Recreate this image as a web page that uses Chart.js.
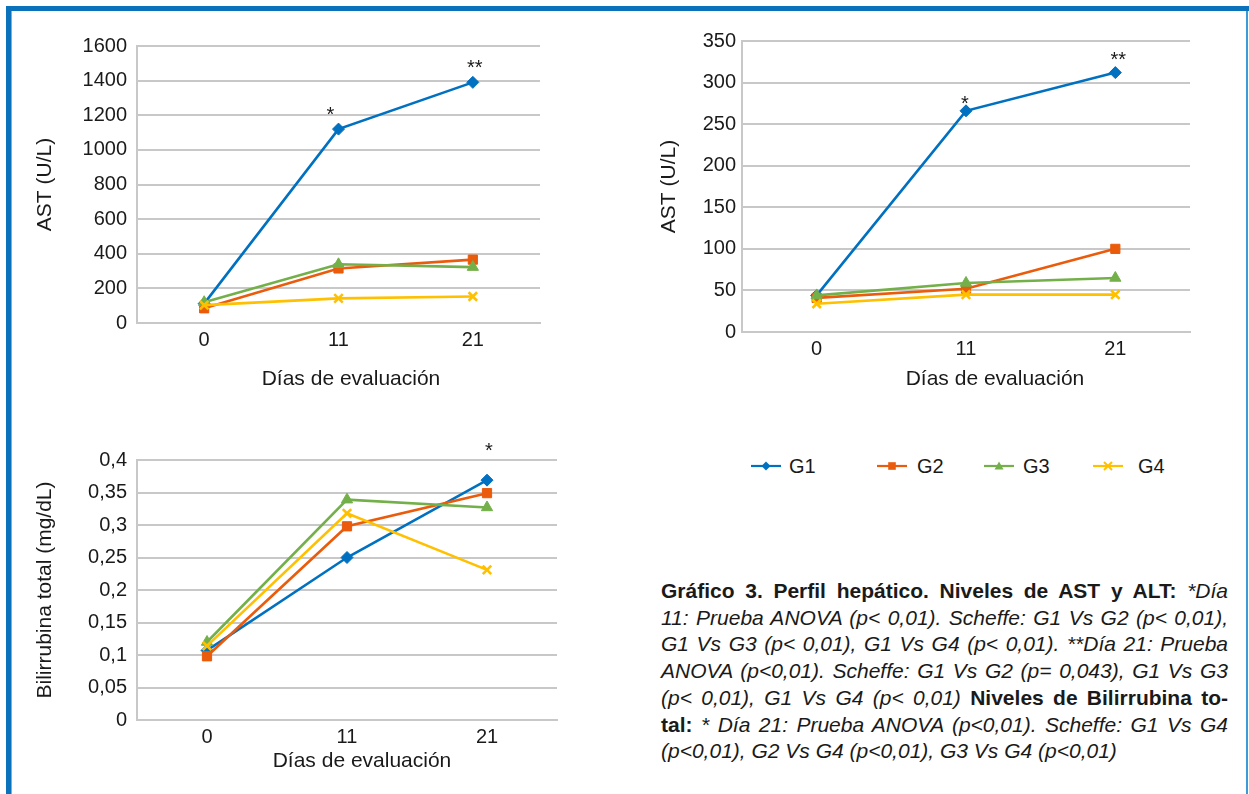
<!DOCTYPE html>
<html>
<head>
<meta charset="utf-8">
<script src="https://cdn.jsdelivr.net/npm/chart.js@4"></script>
<style>
html,body{margin:0;padding:0;background:#fff;}
#page{position:relative;width:1249px;height:794px;overflow:hidden;background:#fff;font-family:'Liberation Sans',Arial,sans-serif;color:#1a1a1a;}
.frame-top{position:absolute;left:6px;top:6px;width:1243px;height:5px;background:#0a71bb;}
.frame-left{position:absolute;left:6px;top:6px;width:5px;height:788px;background:#0a71bb;}
.frame-left2{position:absolute;left:11px;top:11px;width:1px;height:783px;background:#6fb3e3;}
.frame-right{position:absolute;left:1246px;top:11px;width:2px;height:783px;background:#3c9ad6;}
canvas{position:absolute;}
.xt{position:absolute;font-size:21px;white-space:nowrap;transform:translate(-50%,-50%);line-height:24px;}
.lg-ic{position:absolute;}
.lg-tx{position:absolute;font-size:20px;line-height:24px;transform:translateY(-50%);}
#caption{position:absolute;left:661px;top:578px;width:567px;font-size:21px;line-height:26.7px;color:#1a1a1a;}
#caption div{text-align:justify;text-align-last:justify;white-space:nowrap;}
#caption div.last{text-align-last:left;}
#caption i{font-style:italic;}
#caption b{font-weight:bold;}
</style>
</head>
<body>
<div id="page">
  <div class="frame-top"></div>
  <div class="frame-left"></div>
  <div class="frame-left2"></div>
  <div class="frame-right"></div>

  <canvas id="c1"></canvas>
  <canvas id="c2"></canvas>
  <canvas id="c3"></canvas>

  <div class="xt" style="left:351px;top:378px;">Días de evaluación</div>
  <div class="xt" style="left:995px;top:378px;">Días de evaluación</div>
  <div class="xt" style="left:362px;top:760px;">Días de evaluación</div>

  <div id="legend"></div>

  <div id="caption">
    <div><b>Gráfico 3. Perfil hepático. Niveles de AST y ALT:</b> <i>*Día</i></div>
    <div><i>11: Prueba ANOVA (p&lt; 0,01). Scheffe: G1 Vs G2 (p&lt; 0,01),</i></div>
    <div><i>G1 Vs G3 (p&lt; 0,01), G1 Vs G4 (p&lt; 0,01). **Día 21: Prueba</i></div>
    <div><i>ANOVA (p&lt;0,01). Scheffe: G1 Vs G2 (p= 0,043), G1 Vs G3</i></div>
    <div><i>(p&lt; 0,01), G1 Vs G4 (p&lt; 0,01)</i> <b>Niveles de Bilirrubina to-</b></div>
    <div><b>tal:</b> <i>* Día 21: Prueba ANOVA (p&lt;0,01). Scheffe: G1 Vs G4</i></div>
    <div class="last"><i>(p&lt;0,01), G2 Vs G4 (p&lt;0,01), G3 Vs G4 (p&lt;0,01)</i></div>
  </div>
</div>

<script>
// ---------- DATA ----------
const days = ['0', '11', '21'];
const groups = ['G1', 'G2', 'G3', 'G4'];

// Chart 1: AST (U/L), left
const ast1G1 = [112, 1120, 1390];
const ast1G2 = [85, 315, 366];
const ast1G3 = [120, 339, 323];
const ast1G4 = [103, 142, 153];
const ast1TickLabels = ['0', '200', '400', '600', '800', '1000', '1200', '1400', '1600'];
const ast1Marks = ['', '*', '**'];

// Chart 2: AST (U/L), right
const ast2G1 = [44, 266, 312];
const ast2G2 = [41, 52, 100];
const ast2G3 = [44, 59, 65];
const ast2G4 = [34, 45, 45];
const ast2TickLabels = ['0', '50', '100', '150', '200', '250', '300', '350'];
const ast2Marks = ['', '*', '**'];

// Chart 3: Bilirrubina total (mg/dL)
const bilG1 = [0.107, 0.25, 0.369];
const bilG2 = [0.098, 0.298, 0.349];
const bilG3 = [0.12, 0.339, 0.327];
const bilG4 = [0.114, 0.318, 0.231];
const bilTickLabels = ['0', '0,05', '0,1', '0,15', '0,2', '0,25', '0,3', '0,35', '0,4'];
const bilMarks = ['', '', '*'];

// ---------- STYLE ----------
const FONT = "'Liberation Sans', Arial, sans-serif";
Chart.defaults.font.family = FONT;
const colors = ['#0070c0', '#ea5b0c', '#74b04a', '#ffc000'];
const styles = ['rectRot', 'rect', 'triangle', 'crossRot'];
const radii = [6, 6.5, 6.5, 6];
const orders = [4, 3, 2, 1];
const GRID = '#c8c8c8';
const TXT = '#1a1a1a';

const starPlugin = {
  id: 'stars',
  afterDatasetsDraw(chart, args, opts) {
    const meta = chart.getDatasetMeta(0);
    const ctx = chart.ctx;
    ctx.save();
    ctx.font = '20px ' + FONT;
    ctx.fillStyle = TXT;
    ctx.textAlign = 'center';
    ctx.textBaseline = 'alphabetic';
    opts.marks.forEach((t, i) => {
      if (!t) return;
      const p = meta.data[i];
      const o = opts.offsets[i];
      ctx.fillText(t, p.x + o[0], p.y + o[1]);
    });
    ctx.restore();
  }
};

function makeDatasets(series) {
  return series.map((d, i) => ({
    label: groups[i],
    data: d,
    borderColor: colors[i],
    backgroundColor: colors[i],
    borderWidth: 2.6,
    pointStyle: styles[i],
    pointRadius: radii[i],
    pointBackgroundColor: colors[i],
    pointBorderColor: colors[i],
    pointBorderWidth: styles[i] === 'crossRot' ? 2.6 : 1,
    tension: 0,
    order: orders[i]
  }));
}

function makeChart(id, box, plot, series, yOpts, marks, offsets) {
  const cv = document.getElementById(id);
  cv.width = box.w; cv.height = box.h;
  cv.style.left = box.x + 'px'; cv.style.top = box.y + 'px';
  cv.style.width = box.w + 'px'; cv.style.height = box.h + 'px';
  return new Chart(cv, {
    type: 'line',
    data: { labels: days, datasets: makeDatasets(series) },
    options: {
      responsive: false,
      animation: false,
      devicePixelRatio: 1,
      layout: { padding: { left: 0, top: plot.top - box.y, right: box.x + box.w - plot.right, bottom: 0 } },
      plugins: {
        legend: { display: false },
        tooltip: { enabled: false },
        stars: { marks: marks, offsets: offsets }
      },
      scales: {
        x: {
          type: 'category',
          offset: true,
          grid: { display: false, drawTicks: false },
          border: { display: true, color: GRID, width: 2 },
          ticks: { color: TXT, font: { size: 20 }, padding: 5, maxRotation: 0 },
          afterFit(s) { s.height = box.y + box.h - plot.bottom; }
        },
        y: {
          min: yOpts.min, max: yOpts.max,
          ticks: {
            stepSize: yOpts.step,
            color: TXT, font: { size: 20 }, padding: yOpts.tickPad,
            callback: (v, i) => yOpts.labels[i]
          },
          grid: { color: GRID, lineWidth: 2, drawTicks: false },
          border: { display: true, color: GRID, width: 2 },
          title: { display: true, text: yOpts.title, color: TXT, font: { size: 21 }, padding: { top: yOpts.titlePad, bottom: 0 } },
          afterFit(s) { s.width = plot.left - box.x; }
        }
      }
    },
    plugins: [starPlugin]
  });
}

makeChart('c1',
  { x: 20, y: 20, w: 560, h: 390 },
  { left: 137, top: 46, right: 540, bottom: 323 },
  [ast1G1, ast1G2, ast1G3, ast1G4],
  { min: 0, max: 1600, step: 200, labels: ast1TickLabels, title: 'AST (U/L)', tickPad: 10, titlePad: 13 },
  ast1Marks, [[0, 0], [-8, -8], [2, -8]]);

makeChart('c2',
  { x: 640, y: 20, w: 580, h: 390 },
  { left: 742, top: 41, right: 1190, bottom: 332 },
  [ast2G1, ast2G2, ast2G3, ast2G4],
  { min: 0, max: 350, step: 50, labels: ast2TickLabels, title: 'AST (U/L)', tickPad: 6, titlePad: 17 },
  ast2Marks, [[0, 0], [-1, -1], [3, -7]]);

makeChart('c3',
  { x: 20, y: 430, w: 560, h: 340 },
  { left: 137, top: 460, right: 557, bottom: 720 },
  [bilG1, bilG2, bilG3, bilG4],
  { min: 0, max: 0.4, step: 0.05, labels: bilTickLabels, title: 'Bilirrubina total (mg/dL)', tickPad: 10, titlePad: 13 },
  bilMarks, [[0, 0], [0, 0], [2, -23]]);

// ---------- LEGEND (HTML) ----------
const legendPos = [
  { line: 751, text: 789 },
  { line: 877, text: 917 },
  { line: 984, text: 1023 },
  { line: 1093, text: 1138 }
];
const legendY = 466;
const lg = document.getElementById('legend');
function markerSvg(i) {
  const c = colors[i];
  const cx = 15, cy = 7;
  let m = '';
  if (styles[i] === 'rectRot') m = `<polygon points="${cx},${cy-4.5} ${cx+4.5},${cy} ${cx},${cy+4.5} ${cx-4.5},${cy}" fill="${c}"/>`;
  else if (styles[i] === 'rect') m = `<rect x="${cx-3.8}" y="${cy-3.8}" width="7.6" height="7.6" fill="${c}"/>`;
  else if (styles[i] === 'triangle') m = `<polygon points="${cx},${cy-4.5} ${cx+4.5},${cy+3.5} ${cx-4.5},${cy+3.5}" fill="${c}"/>`;
  else m = `<path d="M${cx-4},${cy-4}L${cx+4},${cy+4}M${cx+4},${cy-4}L${cx-4},${cy+4}" stroke="${c}" stroke-width="2"/>`;
  return `<svg width="30" height="14" viewBox="0 0 30 14"><line x1="0" y1="${cy}" x2="30" y2="${cy}" stroke="${c}" stroke-width="2.2"/>${m}</svg>`;
}
groups.forEach((g, i) => {
  const ic = document.createElement('div');
  ic.className = 'lg-ic';
  ic.style.left = legendPos[i].line + 'px';
  ic.style.top = (legendY - 7) + 'px';
  ic.innerHTML = markerSvg(i);
  lg.appendChild(ic);
  const tx = document.createElement('div');
  tx.className = 'lg-tx';
  tx.style.left = legendPos[i].text + 'px';
  tx.style.top = legendY + 'px';
  tx.textContent = g;
  lg.appendChild(tx);
});
</script>
</body>
</html>
